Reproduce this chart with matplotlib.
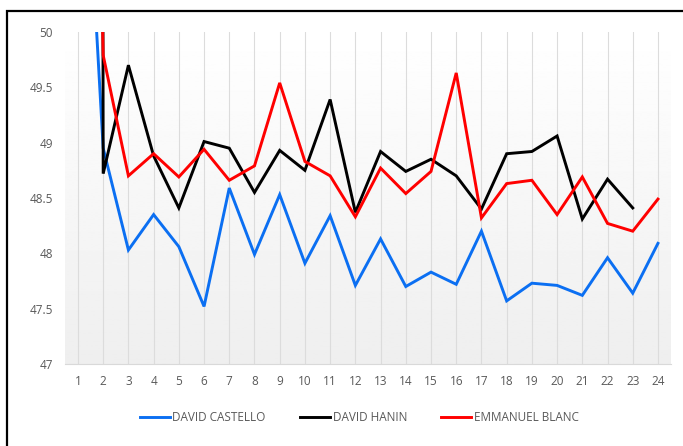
import matplotlib
matplotlib.use("Agg")
import matplotlib.pyplot as plt
from matplotlib.patches import Rectangle
from matplotlib.lines import Line2D
import numpy as np

plt.rcParams['font.family'] = ['Open Sans', 'DejaVu Sans']

# data (first point of each series runs off the top)
rounds = list(range(1, 25))
castello = [53.0, 48.95, 48.03, 48.35, 48.06, 47.52, 48.59, 47.99, 48.53, 47.91,
            48.34, 47.71, 48.13, 47.70, 47.83, 47.72, 48.20, 47.57, 47.73, 47.71,
            47.62, 47.96, 47.64, 48.09]
hanin = [200.0, 48.72, 49.70, 48.88, 48.41, 49.01, 48.95, 48.55, 48.93, 48.75,
         49.39, 48.37, 48.92, 48.74, 48.85, 48.70, 48.40, 48.90, 48.92, 49.06,
         48.31, 48.67, 48.41, None]
blanc = [60.0, 49.79, 48.70, 48.90, 48.69, 48.94, 48.66, 48.79, 49.54, 48.83,
         48.70, 48.33, 48.77, 48.54, 48.74, 49.63, 48.32, 48.63, 48.66, 48.35,
         48.69, 48.27, 48.20, 48.49]

series = [("DAVID CASTELLO", castello, "#0b6ff2"),
          ("DAVID HANIN", hanin, "#000000"),
          ("EMMANUEL BLANC", blanc, "#ff0000")]

grey = "#595959"

fig = plt.figure(figsize=(6.83, 4.46), dpi=100)
ax = fig.add_axes([0.0957, 0.1839, 0.8861, 0.7444])

# soft vertical gradient behind the plot area
grad = np.linspace(1.0, 0.935, 256).reshape(-1, 1)
ax.imshow(grad, cmap="gray", vmin=0, vmax=1, aspect="auto",
          extent=[0, 1, 0, 1], transform=ax.transAxes, zorder=0)

for name, vals, col in series:
    y = np.array([np.nan if v is None else v for v in vals], dtype=float)
    ax.plot(rounds, y, color=col, lw=2.1, zorder=3, solid_joinstyle="miter")

ax.set_xlim(0.5, 24.5)
ax.set_ylim(47, 50)
ax.set_xticks(rounds)
ax.set_yticks([47, 47.5, 48, 48.5, 49, 49.5, 50])
ax.set_yticklabels(["47", "47.5", "48", "48.5", "49", "49.5", "50"])
ax.tick_params(axis="both", length=0, labelsize=8.5, labelcolor=grey)
ax.tick_params(axis="y", pad=9)
ax.tick_params(axis="x", pad=8)
for x in rounds:
    ax.axvline(x, color="#dcdcdc", lw=0.8, zorder=1)
for s in ["top", "left", "right"]:
    ax.spines[s].set_visible(False)
ax.spines["bottom"].set_color("#d9d9d9")
ax.spines["bottom"].set_linewidth(0.8)

handles = [Line2D([], [], color=c, lw=2.1) for _, _, c in series]
fig.legend(handles, [n for n, _, _ in series], loc="center",
           bbox_to_anchor=(0.526, 0.063), ncol=3, frameon=False,
           fontsize=8.5, labelcolor=grey, handlelength=2.5,
           handletextpad=0.25, columnspacing=2.9)

# black frame around the chart (cut off at right and bottom in the original)
fig.patches.append(Rectangle((6.5 / 683, -0.05), 1.2, 1 - 10.5 / 446 + 0.05,
                             transform=fig.transFigure, fill=False,
                             edgecolor="black", lw=1.6))

fig.savefig("out.png", dpi=100)
